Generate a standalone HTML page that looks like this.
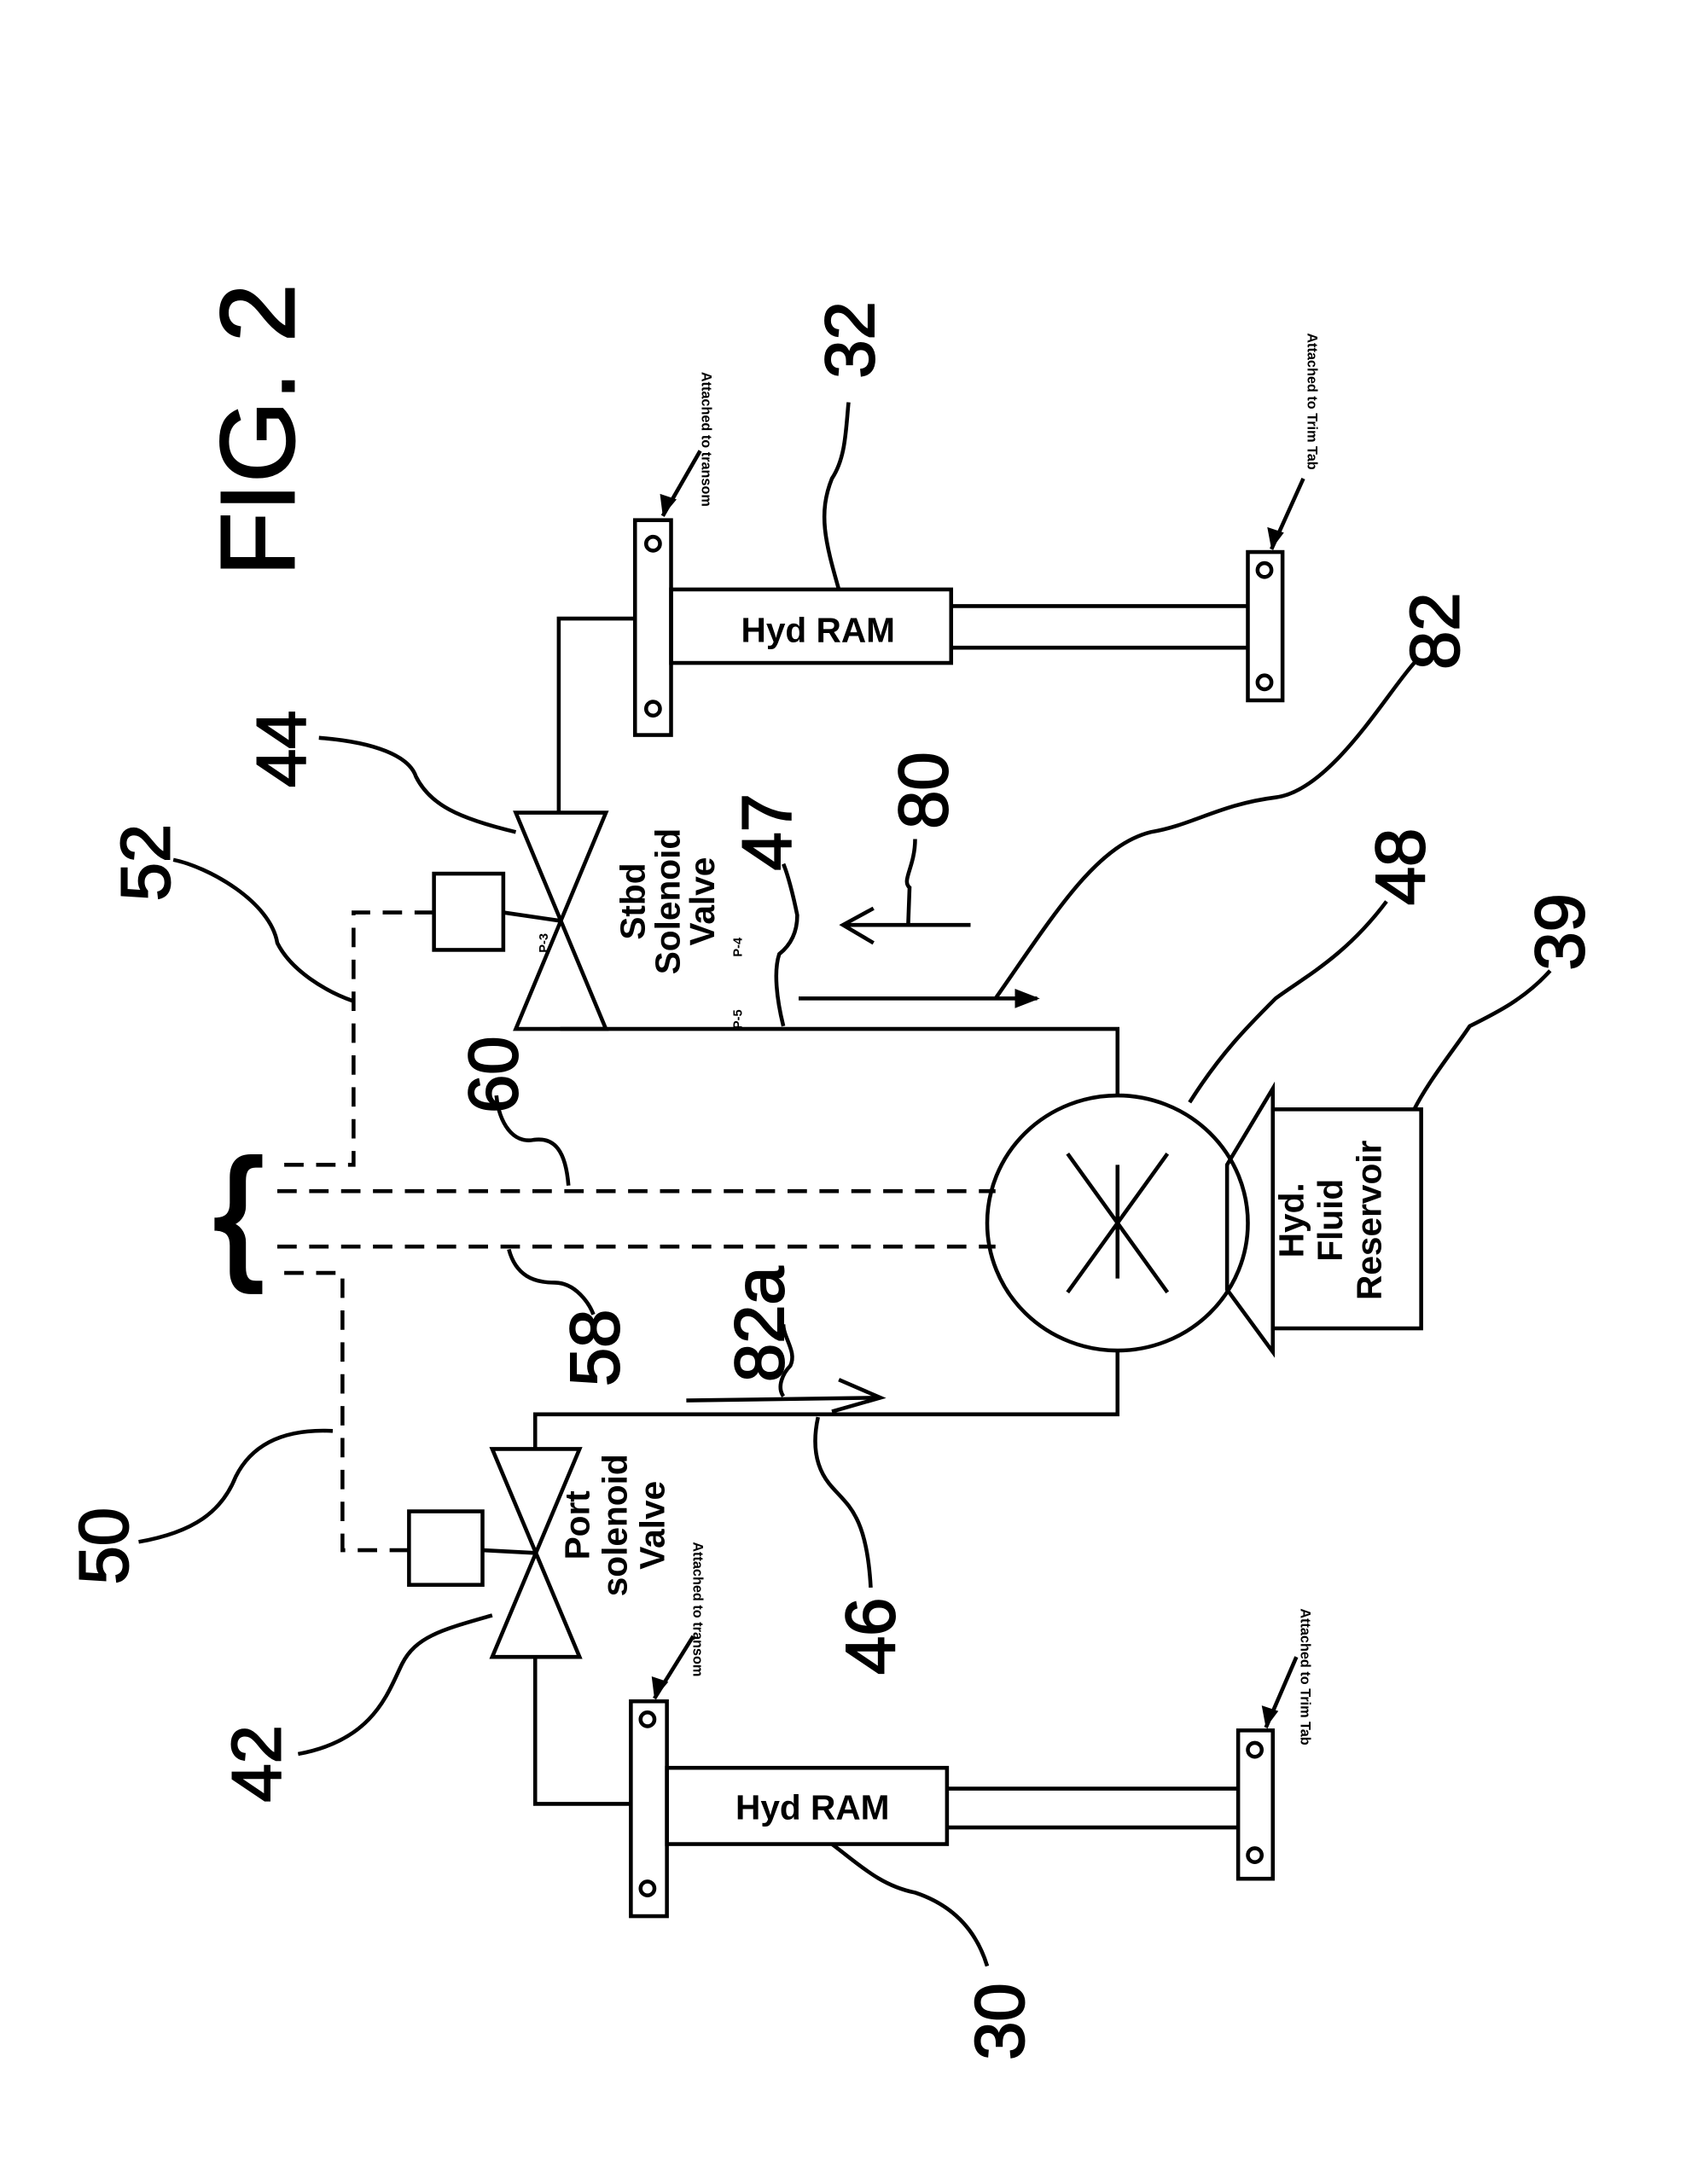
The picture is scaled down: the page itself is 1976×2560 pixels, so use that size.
<!DOCTYPE html>
<html><head><meta charset="utf-8"><style>
html,body{margin:0;padding:0;background:#fff;}
svg{display:block;}
text{font-family:"Liberation Sans",sans-serif;fill:#000;}
</style></head><body>
<svg width="1976" height="2560" viewBox="0 0 1216 1575" xmlns="http://www.w3.org/2000/svg">
<text transform="translate(212,310) rotate(-90)" font-size="76" text-anchor="middle" stroke="#000" stroke-width="1.2">FIG. 2</text>

<g fill="none" stroke="#000" stroke-width="2.8">
<rect x="458" y="375" width="26" height="155"/>
<circle cx="471" cy="392" r="5"/><circle cx="471" cy="511" r="5"/>
<rect x="484" y="425" width="202" height="53"/>
<line x1="686" y1="437" x2="900" y2="437"/><line x1="686" y1="467" x2="900" y2="467"/>
<rect x="900" y="398" width="25" height="107"/>
<circle cx="912" cy="411" r="5"/><circle cx="912" cy="492" r="5"/>
<rect x="455" y="1227" width="26" height="155"/>
<circle cx="467" cy="1240" r="5"/><circle cx="467" cy="1362" r="5"/>
<rect x="481" y="1275" width="202" height="55"/>
<line x1="683" y1="1290" x2="893" y2="1290"/><line x1="683" y1="1318" x2="893" y2="1318"/>
<rect x="893" y="1248" width="25" height="107"/>
<circle cx="905" cy="1262" r="5"/><circle cx="905" cy="1338" r="5"/>

<polyline points="458,446 403,446 403,586"/>
<polyline points="404,742 806,742 806,790"/>
<polyline points="806,975 806,1020 386,1020 386,1045"/>
<polyline points="386,1195 386,1301 455,1301"/>

<polygon points="372,586 437,586 372,742 437,742"/>
<rect x="313" y="630" width="50" height="55"/>
<line x1="363" y1="658" x2="404" y2="664"/>
<polygon points="355,1045 418,1045 355,1195 418,1195"/>
<rect x="295" y="1090" width="53" height="53"/>
<line x1="348" y1="1118" x2="386" y2="1120"/>

<g stroke-dasharray="14,9">
<polyline points="313,658 255,658 255,840 200,840"/>
<polyline points="295,1118 247,1118 247,918 200,918"/>
<line x1="200" y1="859" x2="718" y2="859"/>
<line x1="200" y1="899" x2="718" y2="899"/>
</g>

<ellipse cx="806" cy="882" rx="94" ry="92"/>
<line x1="770" y1="832" x2="842" y2="932"/>
<line x1="842" y1="832" x2="770" y2="932"/>
<line x1="806" y1="840" x2="806" y2="922"/>
<polygon points="885,840 918,785 918,975 885,930"/>
<rect x="918" y="800" width="107" height="158"/>

<line x1="505" y1="325" x2="478" y2="372"/>
<line x1="940" y1="345" x2="917" y2="396"/>
<line x1="500" y1="1180" x2="472" y2="1225"/>
<line x1="935" y1="1195" x2="913" y2="1246"/>

<line x1="700" y1="667" x2="608" y2="667"/>
<polyline points="630,655 608,667 630,680"/>
<line x1="576" y1="720" x2="748" y2="720"/>
<line x1="495" y1="1010" x2="635" y2="1008"/>
<polyline points="605,995 635,1008 600,1018"/>

<path d="M605,425 C595,390 590,370 600,345 C610,330 610,310 612,290"/>
<path d="M372,600 C330,590 310,580 300,560 C295,545 270,535 230,532"/>
<path d="M255,722 C235,715 210,700 200,680 C195,650 150,625 125,620"/>
<path d="M410,855 C408,830 400,820 385,822 C370,825 360,810 358,790"/>
<path d="M565,740 C560,720 558,700 562,688 C572,680 575,670 575,660 C572,645 568,630 565,623"/>
<path d="M655,667 L656,640 C650,635 660,625 660,605"/>
<path d="M718,720 C760,660 790,610 830,600 C860,595 880,580 920,575 C960,570 1000,500 1020,478"/>
<path d="M858,795 C880,760 900,740 920,720 C940,705 970,690 1000,650"/>
<path d="M1020,800 C1030,780 1050,755 1060,740 C1080,730 1100,720 1118,700"/>
<path d="M367,901 C372,920 385,925 400,925 C415,925 425,940 428,948"/>
<path d="M565,1007 C560,1000 565,990 570,985 C575,975 565,965 565,955"/>
<path d="M590,1022 C585,1045 590,1060 598,1070 C610,1085 625,1090 628,1145"/>
<path d="M240,1032 C200,1030 180,1045 170,1065 C160,1090 140,1105 100,1112"/>
<path d="M355,1165 C320,1175 300,1180 290,1200 C280,1220 270,1255 215,1265"/>
<path d="M600,1330 C620,1345 635,1360 660,1365 C690,1375 705,1395 712,1418"/>
</g>
<g fill="#000">
<polygon points="478,372 476,356 488,360"/>
<polygon points="917,396 914,380 926,384"/>
<polygon points="472,1225 470,1209 482,1213"/>
<polygon points="913,1246 910,1230 922,1234"/>
<polygon points="750,720 732,713 732,727"/>
</g>

<text x="590" y="463" font-size="25" font-weight="bold" text-anchor="middle">Hyd RAM</text>
<text x="586" y="1312" font-size="25" font-weight="bold" text-anchor="middle">Hyd RAM</text>
<text transform="translate(506,268) rotate(90)" font-size="10" font-weight="bold">Attached to transom</text>
<text transform="translate(943,240) rotate(90)" font-size="10" font-weight="bold">Attached to Trim Tab</text>
<text transform="translate(500,1112) rotate(90)" font-size="10" font-weight="bold">Attached to transom</text>
<text transform="translate(938,1160) rotate(90)" font-size="10" font-weight="bold">Attached to Trim Tab</text>

<g font-size="25" font-weight="bold" text-anchor="middle">
<text transform="translate(465,650) rotate(-90)">Stbd</text>
<text transform="translate(490,650) rotate(-90)">Solenoid</text>
<text transform="translate(515,650) rotate(-90)">Valve</text>
<text transform="translate(425,1100) rotate(-90)">Port</text>
<text transform="translate(452,1100) rotate(-90)">solenoid</text>
<text transform="translate(479,1100) rotate(-90)">Valve</text>
<text transform="translate(940,880) rotate(-90)">Hyd.</text>
<text transform="translate(968,880) rotate(-90)">Fluid</text>
<text transform="translate(996,880) rotate(-90)">Reservoir</text>
</g>
<g font-size="9" font-weight="bold" text-anchor="middle">
<text transform="translate(395,680) rotate(-90)">P-3</text>
<text transform="translate(535,683) rotate(-90)">P-4</text>
<text transform="translate(535,735) rotate(-90)">P-5</text>
</g>

<text x="172" y="910" font-size="105" text-anchor="middle" stroke="#000" stroke-width="3">{</text>

<g font-size="50" text-anchor="middle" stroke="#000" stroke-width="1.2">
<text transform="translate(630,245) rotate(-90)">32</text>
<text transform="translate(220,540) rotate(-90)">44</text>
<text transform="translate(122,622) rotate(-90)">52</text>
<text transform="translate(373,775) rotate(-90)">60</text>
<text transform="translate(570,600) rotate(-90)">47</text>
<text transform="translate(683,570) rotate(-90)">80</text>
<text transform="translate(1052,455) rotate(-90)">82</text>
<text transform="translate(1027,625) rotate(-90)">48</text>
<text transform="translate(1142,672) rotate(-90)">39</text>
<text transform="translate(446,972) rotate(-90)">58</text>
<text transform="translate(565,955) rotate(-90)">82a</text>
<text transform="translate(645,1180) rotate(-90)">46</text>
<text transform="translate(92,1115) rotate(-90)">50</text>
<text transform="translate(202,1272) rotate(-90)">42</text>
<text transform="translate(738,1458) rotate(-90)">30</text>
</g>
</svg>
</body></html>
